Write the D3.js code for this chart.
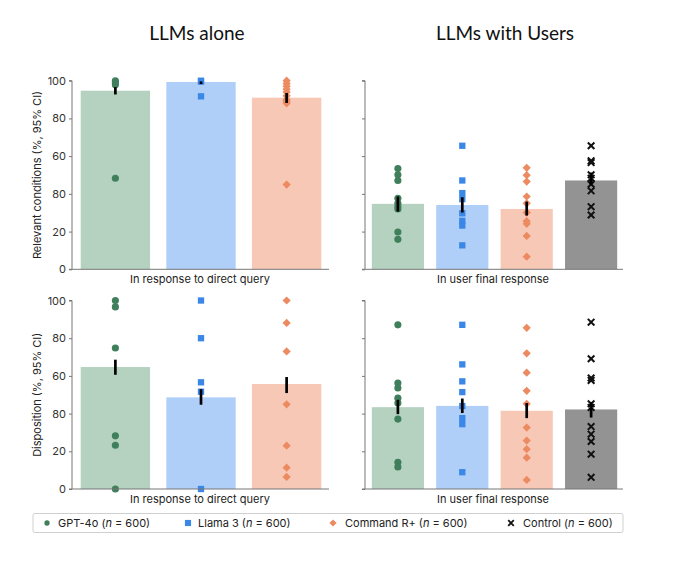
<!DOCTYPE html>
<html>
<head>
<meta charset="utf-8">
<script src="https://cdn.jsdelivr.net/npm/d3@7"></script>
<style>
  body { margin: 0; background: #fff; }
  svg { font-family: Inter, 'Noto Sans', sans-serif; }
</style>
</head>
<body>
<div id="chart"></div>
<script>
const width = 680;
const height = 571;

// groupes et réglages
const models = ['GPT-4o', 'Llama 3', 'Command R+', 'Control'];
const legendLabels = ['GPT-4o', 'Llama 3', 'Command R+', 'Control'];
const sampleSize = [600, 600, 600, 600];
const yTicks = [0, 20, 40, 60, 80, 100];
const yTickLabels = ['0', '20', '80', '60', '80', '100'];
const colTitles = ['LLMs alone', 'LLMs with Users'];
const xTitles = ['In response to direct query', 'In user final response'];
const rowTitles = ['Relevant conditions (%, 95% CI)', 'Disposition (%, 95% CI)'];

// Relevant conditions, LLMs alone
const relAloneMean = [94.7, 99.3, 91.0];
const relAloneCI = [[92.7, 96.6], [98.2, 99.6], [88.2, 93.5]];
const relAlonePoints = [
  [100, 99, 97.8, 48.3],
  [100, 99.5, 91.7],
  [100, 98.5, 97, 95.5, 94, 92, 90, 89, 88, 44.9]
];

// Relevant conditions, LLMs with users
const relUserMean = [34.7, 34.1, 32.0, 47.1];
const relUserCI = [[30.6, 38.6], [30.1, 38.2], [28.5, 35.9], [44.8, 51.3]];
const relUserPoints = [
  [53.4, 50.1, 47.1, 37.7, 35.0, 33.2, 32.0, 19.8, 15.9],
  [65.5, 47.1, 40.4, 37.2, 29.7, 25.7, 23.2, 12.7],
  [53.8, 49.9, 46.5, 38.6, 35.0, 30.1, 25.5, 24.1, 17.7, 6.7],
  [65.5, 57.5, 56.6, 50.1, 48.3, 45.1, 41.6, 33.2, 28.8]
];

// Disposition, LLMs alone
const dispAloneMean = [64.7, 48.6, 55.7];
const dispAloneCI = [[60.6, 68.6], [44.7, 53.0], [50.9, 59.4]];
const dispAlonePoints = [
  [100, 96.6, 74.8, 28.2, 23.2, 0],
  [100, 80, 56.6, 51.6, 0],
  [100, 88.1, 73.0, 44.9, 23.0, 11.3, 6.4]
];

// Disposition, LLMs with users
const dispUserMean = [43.4, 44.1, 41.5, 42.2];
const dispUserCI = [[39.7, 47.3], [40.3, 48.0], [37.6, 45.6], [37.9, 46.1]];
const dispUserPoints = [
  [87.1, 56.2, 53.6, 48.2, 45.6, 37.1, 14.2, 11.7],
  [87.1, 66.1, 57.1, 51.4, 44.0, 37.6, 34.4, 8.9],
  [85.5, 72.0, 61.7, 52.1, 45.2, 32.6, 25.7, 21.1, 16.6, 4.8],
  [88.5, 69.1, 58.9, 57.6, 45.2, 43.3, 33.1, 29.1, 25.2, 18.5, 6.2]
];

const barColor = d3.scaleOrdinal().domain(models).range(['#b4d2bf', '#afcff8', '#f7c8b5', '#939393']);
const pointColor = d3.scaleOrdinal().domain(models).range(['#3f7f5b', '#3b87e8', '#ec8a62', '#111']);
const symbolOf = {
  'GPT-4o': d3.symbol(d3.symbolCircle, 40),
  'Llama 3': d3.symbol(d3.symbolSquare, 40),
  'Command R+': d3.symbol(d3.symbolSquare, 34),
  'Control': d3.symbol(d3.symbolTimes, 30)
};

const panels = [
  { row: 0, col: 0, mean: relAloneMean, ci: relAloneCI, pts: relAlonePoints },
  { row: 0, col: 1, mean: relUserMean, ci: relUserCI, pts: relUserPoints },
  { row: 1, col: 0, mean: dispAloneMean, ci: dispAloneCI, pts: dispAlonePoints },
  { row: 1, col: 1, mean: dispUserMean, ci: dispUserCI, pts: dispUserPoints }
];

const colX = [[72, 329], [365, 623]];
const rowY = [[269.3, 80.7], [489, 300.5]];

const svg = d3.select('#chart')
  .append('svg')
  .attr('width', width)
  .attr('height', height);

// titres des colonnes
svg.append('g')
  .selectAll('text')
  .data(colTitles)
  .join('text')
  .attr('x', (d, i) => i === 0 ? 197 : 505)
  .attr('y', 40)
  .attr('text-anchor', 'middle')
  .attr('font-family', 'Lato, sans-serif')
  .attr('font-size', 19)
  .attr('fill', '#111')
  .text(d => d);

// titres des lignes
rowTitles.forEach((t, r) => {
  svg.append('text')
    .attr('transform', `translate(41, ${(rowY[r][0] + rowY[r][1]) / 2}) rotate(-90)`)
    .attr('text-anchor', 'middle')
    .attr('font-size', 11)
    .attr('fill', '#222')
    .text(t);
});

panels.forEach(p => {
  const groups = models.slice(0, p.mean.length);
  const g = svg.append('g');

  const x = d3.scaleBand()
    .domain(groups)
    .range([colX[p.col][0] + 1, colX[p.col][1]])
    .paddingInner(0.19)
    .paddingOuter(0.09);

  const y = d3.scaleLinear()
    .domain([0, 100])
    .range(rowY[p.row]);

  // barres
  g.append('g')
    .selectAll('rect')
    .data(groups)
    .join('rect')
    .attr('x', d => x(d))
    .attr('width', x.bandwidth())
    .attr('y', (d, i) => y(p.mean[i]))
    .attr('height', (d, i) => y(0) - y(p.mean[i]))
    .attr('fill', d => barColor(d));

  // points
  groups.forEach((m, i) => {
    g.append('g')
      .selectAll('path')
      .data(p.pts[i])
      .join('path')
      .attr('transform', v => `translate(${x(m) + x.bandwidth() / 2}, ${y(v)})` + (m === 'Command R+' ? ' rotate(45)' : ''))
      .attr('d', symbolOf[m])
      .attr('fill', m === 'Control' ? 'none' : pointColor(m))
      .attr('stroke', m === 'Control' ? '#111' : 'none')
      .attr('stroke-width', 2);
  });

  // intervalles de confiance
  g.append('g')
    .selectAll('line')
    .data(groups)
    .join('line')
    .attr('x1', d => x(d) + x.bandwidth() / 2)
    .attr('x2', d => x(d) + x.bandwidth() / 2)
    .attr('y1', (d, i) => y(p.ci[i][0]))
    .attr('y2', (d, i) => y(p.ci[i][1]))
    .attr('stroke', '#000')
    .attr('stroke-width', 2.7);

  // axe vertical
  const yAxis = d3.axisLeft(y)
    .tickValues(yTicks)
    .tickSize(3)
    .tickFormat((d, i) => p.col === 0 ? yTickLabels[i] : '');
  g.append('g')
    .attr('transform', `translate(${colX[p.col][0]}, 0)`)
    .call(yAxis)
    .call(a => a.select('.domain').attr('stroke', '#777').attr('d', `M-3,${y(100)}H0V${y(0)}`))
    .call(a => a.selectAll('.tick line').attr('stroke', '#777'))
    .call(a => a.selectAll('.tick text').attr('font-size', 11).attr('fill', '#333').attr('font-family', 'Inter, sans-serif'));

  // axe horizontal
  g.append('line')
    .attr('x1', colX[p.col][0] - 3)
    .attr('x2', colX[p.col][1])
    .attr('y1', y(0))
    .attr('y2', y(0))
    .attr('stroke', '#777');

  g.append('text')
    .attr('x', p.col === 0 ? 200 : 493)
    .attr('y', y(0) + 14)
    .attr('text-anchor', 'middle')
    .attr('font-size', 11)
    .attr('fill', '#222')
    .text(xTitles[p.col]);
});

// légende
const legend = svg.append('g');
legend.append('rect')
  .attr('x', 33)
  .attr('y', 513.5)
  .attr('width', 590)
  .attr('height', 19)
  .attr('rx', 2)
  .attr('fill', '#fff')
  .attr('stroke', '#cfcfcf');

const legendX = [47, 188, 333, 511];
const item = legend.selectAll('g')
  .data(models)
  .join('g')
  .attr('transform', (d, i) => `translate(${legendX[i]}, 523)`);

item.append('path')
  .attr('transform', d => d === 'Command R+' ? 'rotate(45)' : null)
  .attr('d', d => d === 'GPT-4o' ? d3.symbol(d3.symbolCircle, 22)() : d === 'Llama 3' ? d3.symbol(d3.symbolSquare, 38)() : d === 'Command R+' ? d3.symbol(d3.symbolSquare, 26)() : d3.symbol(d3.symbolTimes, 22)())
  .attr('fill', d => d === 'Control' ? 'none' : pointColor(d))
  .attr('stroke', d => d === 'Control' ? '#111' : 'none')
  .attr('stroke-width', 1.8);

const txt = item.append('text')
  .attr('x', (d, i) => i === 0 ? 11 : i === 1 ? 10 : 12)
  .attr('dy', '0.35em')
  .attr('font-size', 11)
  .attr('fill', '#222');
txt.append('tspan').text((d, i) => legendLabels[i] + ' (');
txt.append('tspan').attr('font-style', 'italic').text('n');
txt.append('tspan').text((d, i) => ' = ' + sampleSize[i] + ')');
</script>
</body>
</html>
